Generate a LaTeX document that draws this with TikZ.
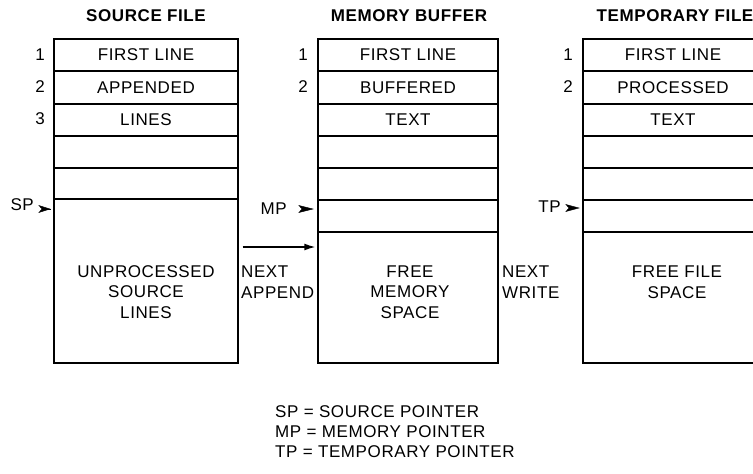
\documentclass[tikz,border=0pt]{standalone}
\usepackage{fontspec}
\setmainfont{Liberation Sans}[LetterSpace=3.5]
\usetikzlibrary{arrows.meta,calc}
\begin{document}
\begin{tikzpicture}[x=1pt,y=-1pt,
  txt/.style={inner sep=0pt, font=\fontsize{17}{20.5}\selectfont, align=center},
  ttl/.style={inner sep=0pt, font=\bfseries\fontsize{17}{19}\selectfont},
  cell/.style={draw, line width=1.4pt, inner sep=0pt, font=\fontsize{17}{19}\selectfont, align=center},
  num/.style={inner sep=0pt, font=\fontsize{17}{19}\selectfont, anchor=center},
  ptr/.style={inner sep=0pt, font=\fontsize{17}{19}\selectfont, anchor=east},
  tip/.style={fill=black, draw=black, line width=0.4pt},
  arr/.style={line width=1.4pt, -{Latex[length=11pt,width=7pt]}}]
\path[use as bounding box, clip] (0,0) rectangle (753,474);
\fill[white] (0,0) rectangle (753,474);

% titles
\node[ttl] (t1) at (146,16) {SOURCE FILE};
\node[ttl] (t2) at (409,16) {MEMORY BUFFER};
\node[ttl] (t3) at (675,16) {TEMPORARY FILE};

% source file
\node[cell, minimum width=184pt, minimum height=32pt] (s1) at (146,55) {FIRST LINE};
\node[cell, minimum width=184pt, minimum height=33pt] (s2) at (146,87.5) {APPENDED};
\node[cell, minimum width=184pt, minimum height=32pt] (s3) at (146,120) {LINES};
\node[cell, minimum width=184pt, minimum height=32pt] (s4) at (146,152) {};
\node[cell, minimum width=184pt, minimum height=31pt] (s5) at (146,183.5) {};
\node[cell, minimum width=184pt, minimum height=164pt] (sbig) at (146,281) {};
\node[txt] (stext) at (146,292) {UNPROCESSED\\SOURCE\\LINES};

% memory buffer
\node[cell, minimum width=180pt, minimum height=32pt] (m1) at (408,55) {FIRST LINE};
\node[cell, minimum width=180pt, minimum height=33pt] (m2) at (408,87.5) {BUFFERED};
\node[cell, minimum width=180pt, minimum height=32pt] (m3) at (408,120) {TEXT};
\node[cell, minimum width=180pt, minimum height=32pt] (m4) at (408,152) {};
\node[cell, minimum width=180pt, minimum height=32pt] (m5) at (408,184) {};
\node[cell, minimum width=180pt, minimum height=32pt] (m6) at (408,216) {};
\node[cell, minimum width=180pt, minimum height=131pt] (mbig) at (408,297.5) {};
\node[txt] (mtext) at (410,292) {FREE\\MEMORY\\SPACE};

% temporary file
\node[cell, minimum width=180pt, minimum height=32pt] (f1) at (673,55) {FIRST LINE};
\node[cell, minimum width=180pt, minimum height=33pt] (f2) at (673,87.5) {PROCESSED};
\node[cell, minimum width=180pt, minimum height=32pt] (f3) at (673,120) {TEXT};
\node[cell, minimum width=180pt, minimum height=32pt] (f4) at (673,152) {};
\node[cell, minimum width=180pt, minimum height=32pt] (f5) at (673,184) {};
\node[cell, minimum width=180pt, minimum height=32pt] (f6) at (673,216) {};
\node[cell, minimum width=180pt, minimum height=131pt] (fbig) at (673,297.5) {};
\node[txt] (ftext) at (677,282) {FREE FILE\\SPACE};

% row numbers
\node[num] (n1) at (40,55) {1};
\node[num] (n2) at (40,87) {2};
\node[num] (n3) at (40,119) {3};
\node[num] (nm1) at (303,55) {1};
\node[num] (nm2) at (303,87) {2};
\node[num] (nf1) at (568,55) {1};
\node[num] (nf2) at (568,87) {2};

% pointers
\node[ptr] (sp) at (34,205) {SP};
\draw[tip] (39,205.5) -- (50,209) -- (39,212.5) -- (42,209) -- cycle;
\draw[line width=0.8pt] (42,209) -- (51,209);
\node[ptr] (mp) at (287,209) {MP};
\draw[tip] (299,205.5) -- (313,209) -- (299,212.5) -- (302,209) -- cycle;
\node[ptr] (tp) at (561,207) {TP};
\draw[tip] (566,204.5) -- (579,208) -- (566,211.5) -- (569,208) -- cycle;

% next append arrow
\draw[arr] ([xshift=4pt]sbig.east |- 0,247) -- ([xshift=-2pt]mbig.west |- 0,247);
\node[txt, align=left, anchor=west] (na) at (241,282) {NEXT\\APPEND};
\node[txt, align=left, anchor=west] (nw) at (502,282) {NEXT\\WRITE};

% legend
\node[txt, align=left, anchor=west, font=\fontsize{17}{20}\selectfont] (leg) at (275,432)
  {SP = SOURCE POINTER\\MP = MEMORY POINTER\\TP = TEMPORARY POINTER};
\end{tikzpicture}
\end{document}
